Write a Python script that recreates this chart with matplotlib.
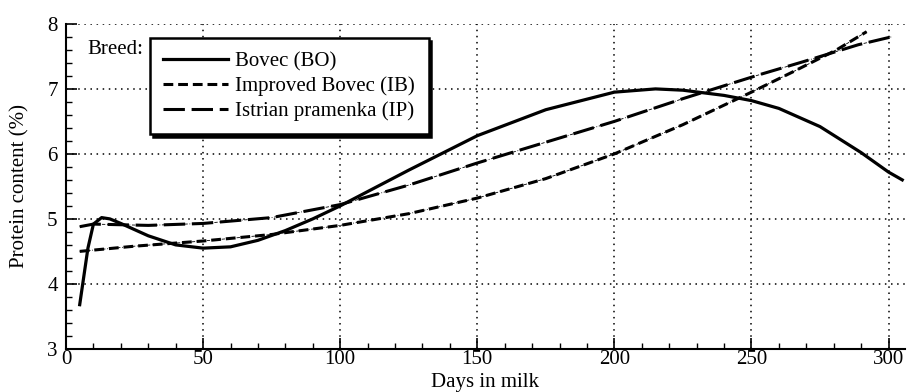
import matplotlib
matplotlib.use("Agg")
import matplotlib.pyplot as plt
from matplotlib.ticker import MultipleLocator

plt.rcParams["font.family"] = ["Liberation Serif", "DejaVu Serif"]

# --- data ---
bo_days = [5, 8, 10, 13, 16, 20, 30, 40, 50, 60, 70, 80, 90, 100, 125, 150,
           175, 200, 215, 225, 240, 250, 260, 275, 290, 300, 305]
bo_prot = [3.68, 4.55, 4.92, 5.02, 5.0, 4.93, 4.74, 4.6, 4.55, 4.57, 4.67, 4.82,
           5.0, 5.2, 5.75, 6.28, 6.68, 6.95, 7.0, 6.98, 6.9, 6.82, 6.7, 6.42,
           6.02, 5.72, 5.6]

ib_days = [5, 25, 50, 75, 100, 125, 150, 175, 200, 225, 250, 265, 281, 292]
ib_prot = [4.5, 4.58, 4.66, 4.76, 4.9, 5.08, 5.32, 5.62, 6.0, 6.45, 6.95, 7.26,
           7.6, 7.88]

ip_days = [5, 10, 30, 50, 75, 100, 125, 150, 175, 200, 225, 253, 269, 289, 301]
ip_prot = [4.88, 4.92, 4.9, 4.93, 5.02, 5.22, 5.52, 5.86, 6.18, 6.5, 6.85, 7.22,
           7.42, 7.68, 7.8]

fig = plt.figure(figsize=(9.09, 3.92), dpi=100)
ax = fig.add_axes([0.0726, 0.110, 0.9230, 0.829])

ax.plot(bo_days, bo_prot, color="black", lw=2.3, ls="-", label="Bovec (BO)")
ax.plot(ib_days, ib_prot, color="black", lw=2.2, ls=(0, (3.2, 1.6)),
        label="Improved Bovec (IB)")
ax.plot(ip_days, ip_prot, color="black", lw=2.2, ls=(0, (7, 2.2)),
        label="Istrian pramenka (IP)")
# thin trace lines under the dashed curves
ax.plot(ib_days, ib_prot, color="black", lw=0.6, ls=(0, (4, 2, 1, 2)))
ax.plot(ip_days, ip_prot, color="black", lw=0.6, ls=(0, (4, 2, 1, 2)))

ax.set_xlim(0, 306)
ax.set_ylim(3, 8)
ax.xaxis.set_major_locator(MultipleLocator(50))
ax.xaxis.set_minor_locator(MultipleLocator(10))
ax.yaxis.set_major_locator(MultipleLocator(1))
ax.yaxis.set_minor_locator(MultipleLocator(0.2))
ax.tick_params(which="major", direction="in", length=8, width=1.2, labelsize=15)
ax.tick_params(axis="y", which="major", pad=6)
ax.tick_params(axis="x", which="major", pad=1)
ax.tick_params(which="minor", direction="in", length=4, width=1.0)
ax.grid(True, which="major", color="black", ls=(0, (1, 3)), lw=1.1)

ax.spines["top"].set_visible(False)
ax.spines["right"].set_visible(False)
ax.spines["left"].set_linewidth(1.5)
ax.spines["bottom"].set_linewidth(1.5)

ax.set_xlabel("Days in milk", fontsize=15)
ax.xaxis.set_label_coords(0.5, -0.075)
ax.set_ylabel("Protein content (%)", fontsize=15)
ax.yaxis.set_label_coords(-0.043, 0.5)

ax.text(0.026, 0.92, "Breed:", transform=ax.transAxes, fontsize=15,
        ha="left", va="center")
leg = ax.legend(loc="upper left", bbox_to_anchor=(0.1, 0.957), fontsize=15,
                frameon=True, fancybox=False, edgecolor="black",
                shadow={"color": "black", "alpha": 1.0},
                handlelength=3.1, handletextpad=0.35, labelspacing=0.25,
                borderpad=0.65, borderaxespad=0, framealpha=1)
leg.get_frame().set_linewidth(1.8)

fig.savefig("out.png", dpi=100)
